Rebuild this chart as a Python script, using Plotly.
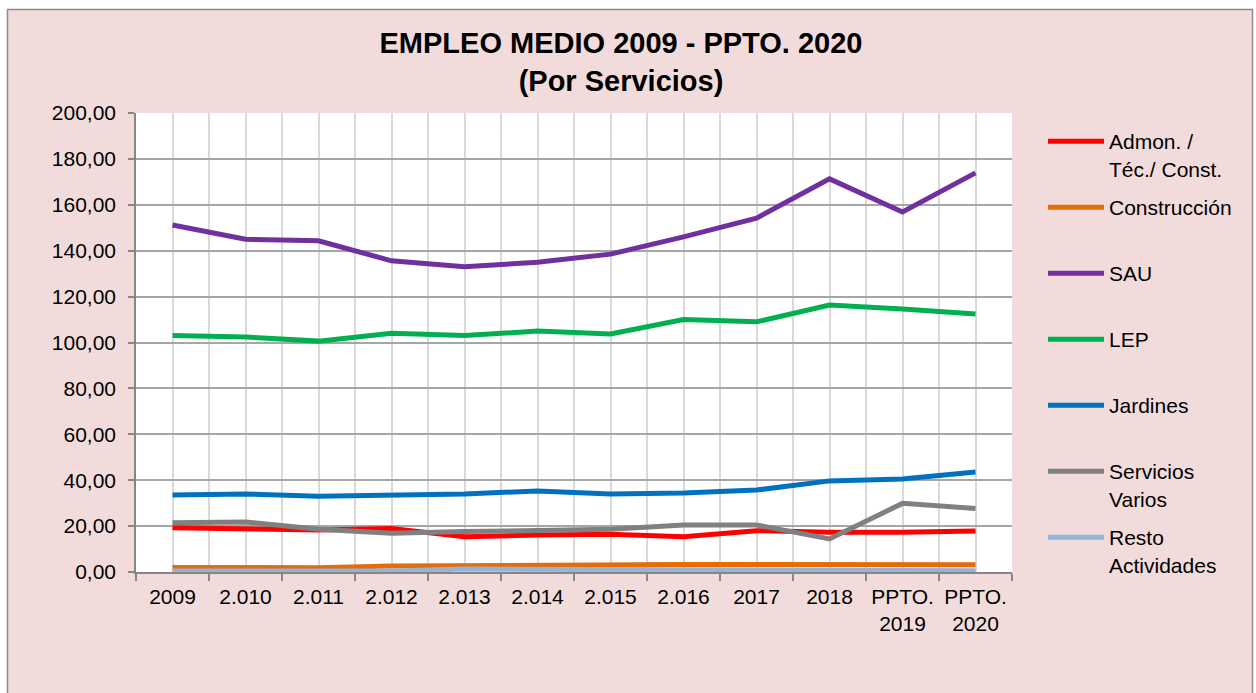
import plotly.graph_objects as go

categories = ["2009", "2.010", "2.011", "2.012", "2.013", "2.014", "2.015",
              "2.016", "2017", "2018", "PPTO.<br>2019", "PPTO.<br>2020"]

series_names = ["Admon. /<br>Téc./ Const.", "Construcción", "SAU", "LEP",
                "Jardines", "Servicios<br>Varios", "Resto<br>Actividades"]

admon = [19.3, 19.0, 18.3, 19.0, 15.4, 16.1, 16.4, 15.4, 18.0, 17.3, 17.3, 17.9]
construccion = [2.0, 2.0, 1.9, 2.6, 2.9, 2.8, 3.5, 3.3, 3.3, 3.3, 3.3, 3.2]
sau = [151.2, 145.0, 144.3, 135.6, 133.0, 135.0, 138.5, 146.0, 154.2, 171.3, 156.9, 173.9]
lep = [103.0, 102.4, 100.6, 104.0, 103.0, 105.0, 103.7, 110.0, 109.0, 116.3, 114.6, 112.4]
jardines = [33.5, 34.0, 33.0, 33.5, 34.0, 35.3, 34.0, 34.4, 35.7, 39.7, 40.5, 43.6]
servicios = [21.5, 21.8, 18.6, 16.9, 17.6, 18.3, 18.6, 20.5, 20.5, 14.4, 29.9, 27.7]
resto = [0.4, 0.4, 0.4, 0.4, 1.3, 1.2, 0.6, 0.5, 0.5, 0.5, 0.5, 0.5]

series_values = [admon, construccion, sau, lep, jardines, servicios, resto]
colors = ["#FF0000", "#E46C0A", "#7030A0", "#00B050", "#0070C0", "#808080", "#95B3D7"]

FONT = "Liberation Sans, Arial, sans-serif"
x_idx = list(range(len(categories)))

fig = go.Figure()
for i, (name, vals, col) in enumerate(zip(series_names, series_values, colors)):
    label = name if "<br>" in name else name + "<br>&nbsp;"
    fig.add_trace(go.Scatter(
        x=x_idx, y=vals, mode="lines", name=label,
        line=dict(color=col, width=5),
        legendgroup=f"g{i}",
    ))

W, H = 1256, 693
ml, mr, mt, mb = 136, 244, 113, 121
pw, ph = W - ml - mr, H - mt - mb

def px_x(px):
    return (px - ml) / pw

def px_y(py):
    return (H - mb - py) / ph

fig.update_layout(
    width=W, height=H,
    margin=dict(l=ml, r=mr, t=mt, b=mb, autoexpand=False),
    paper_bgcolor="white",
    plot_bgcolor="white",
    separators=",.",
    font=dict(family=FONT, size=21, color="#000000"),
    title=dict(
        text="<b>EMPLEO MEDIO 2009 - PPTO. 2020<br>(Por Servicios)</b>",
        font=dict(family=FONT, size=29, color="#000000"),
        x=621 / W, xanchor="center", y=1 - 53 / H, yanchor="top",
    ),
    showlegend=True,
    legend=dict(
        x=px_x(1043), xanchor="left", y=px_y(121), yanchor="top",
        bgcolor="rgba(0,0,0,0)", font=dict(family=FONT, size=21, color="#000000"),
        tracegroupgap=8.4, valign="top", itemwidth=56, maxheight=650,
    ),
    shapes=[
        dict(type="rect", xref="paper", yref="paper",
             x0=px_x(7.5), x1=px_x(1252.5), y0=px_y(700), y1=px_y(9.5),
             fillcolor="#F2DCDB", line=dict(color="#8C8C8C", width=1.5), layer="below"),
        dict(type="rect", xref="paper", yref="paper", x0=0, x1=1, y0=0, y1=1,
             fillcolor="white", line=dict(width=0), layer="below"),
    ],
)

fig.update_xaxes(
    range=[-0.5, len(categories) - 0.5],
    tickmode="array", tickvals=x_idx, ticktext=categories,
    ticks="", showgrid=True, gridcolor="#D9D9D9", gridwidth=1.5,
    showline=True, linecolor="#868686", linewidth=1.5,
    zeroline=False, ticklabelstandoff=5,
    tickfont=dict(family=FONT, size=21, color="#000000"),
    minor=dict(tickmode="array",
               tickvals=[v - 0.5 for v in x_idx] + [len(categories) - 0.5],
               ticks="outside", ticklen=7, tickcolor="#868686", tickwidth=1.5,
               showgrid=True, gridcolor="#D9D9D9", gridwidth=1.5),
)

fig.update_yaxes(
    range=[0, 200], dtick=20, tickformat=".2f",
    ticks="outside", ticklen=6, tickcolor="#868686", tickwidth=1.5,
    showgrid=True, gridcolor="#A6A6A6", gridwidth=1.5,
    showline=True, linecolor="#868686", linewidth=1.5,
    zeroline=False, ticklabelstandoff=8,
    tickfont=dict(family=FONT, size=21, color="#000000"),
)

fig.write_html("out.html", config={"displayModeBar": False},
               post_script="document.body.style.margin='0px';")
